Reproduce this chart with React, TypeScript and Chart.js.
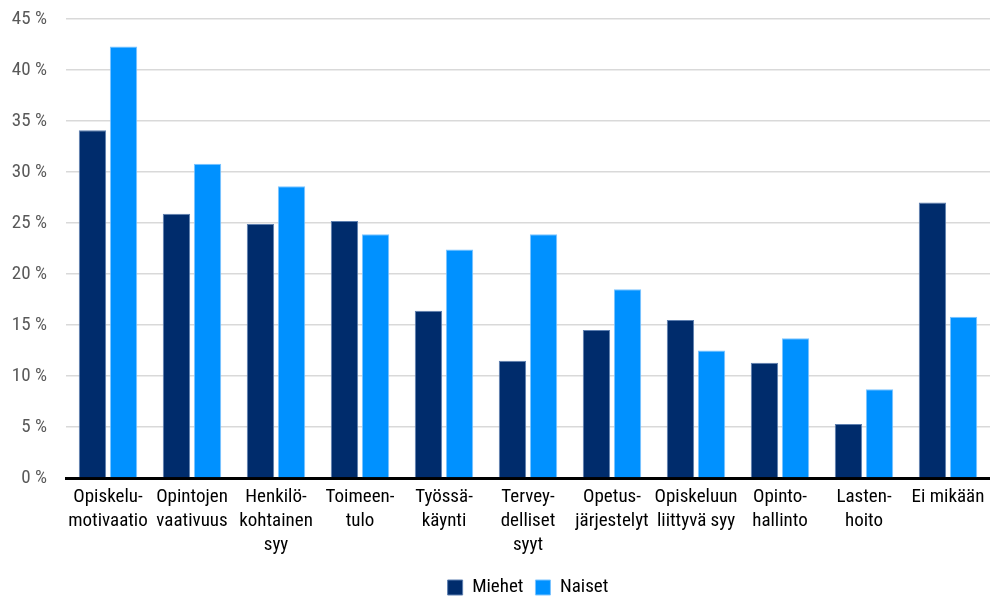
import React, { useEffect, useRef } from "react";
import { Chart, registerables } from "chart.js";

Chart.register(...registerables);

const categories: (string | string[])[] = [
  ["Opiskelu-", "motivaatio"],
  ["Opintojen", "vaativuus"],
  ["Henkilö-", "kohtainen", "syy"],
  ["Toimeen-", "tulo"],
  ["Työssä-", "käynti"],
  ["Tervey-", "delliset", "syyt"],
  ["Opetus-", "järjestelyt"],
  ["Opiskeluun", "liittyvä syy"],
  ["Opinto-", "hallinto"],
  ["Lasten-", "hoito"],
  "Ei mikään",
];
const miehet = [34.1, 25.9, 24.9, 25.2, 16.4, 11.5, 14.5, 15.5, 11.3, 5.3, 27.0];
const naiset = [42.3, 30.8, 28.6, 23.9, 22.4, 23.9, 18.5, 12.5, 13.7, 8.7, 15.8];
const seriesNames = ["Miehet", "Naiset"];
const seriesColors = ["#002C6C", "#0091FF"];

const FONT = "'Roboto Condensed', 'Open Sans', sans-serif";

export default function App() {
  const ref = useRef<HTMLCanvasElement | null>(null);
  useEffect(() => {
    document.body.style.margin = "0";
    if (!ref.current) return;
    const chart = new Chart(ref.current, {
      type: "bar",
      data: {
        labels: categories,
        datasets: [
          { label: seriesNames[0], data: miehet, backgroundColor: seriesColors[0], borderColor: "#5d7fb0", borderWidth: 1 },
          { label: seriesNames[1], data: naiset, backgroundColor: seriesColors[1], borderColor: "#7cc4ff", borderWidth: 1 },
        ],
      },
      options: {
        animation: false,
        responsive: false,
        maintainAspectRatio: false,
        datasets: { bar: { categoryPercentage: 0.74, barPercentage: 0.88 } },
        layout: { padding: { top: 19, right: -5, left: 0, bottom: -9 } },
        plugins: {
          tooltip: { enabled: false },
          legend: {
            position: "bottom",
            fullSize: false,
            labels: {
              font: { family: FONT, size: 19 },
              color: "#000",
              boxWidth: 15,
              boxHeight: 15,
              padding: 12,
            },
          },
        },
        scales: {
          x: {
            grid: { display: false, drawTicks: false },
            border: { display: true, color: "#000", width: 3 },
            ticks: {
              font: { family: FONT, size: 19, lineHeight: 1.26 },
              color: "#000",
              maxRotation: 0,
              autoSkip: false,
              padding: 7,
            },
            afterFit: (s: any) => { s.height = 88; s.paddingLeft = 0; s.paddingRight = 0; },
          },
          y: {
            min: 0,
            max: 45,
            grid: { color: "#d9d9d9", lineWidth: 1.5, drawTicks: true, tickLength: 19, tickColor: "rgba(0,0,0,0)" },
            border: { display: false },
            ticks: {
              stepSize: 5,
              font: { family: FONT, size: 19 },
              color: "#595959",
              padding: 0,
              callback: (v: any) => `${v} %`,
            },
            afterFit: (s: any) => { s.width = 66; },
          },
        },
      },
    });
    return () => chart.destroy();
  }, []);
  return (
    <div style={{ width: 990, height: 598 }}>
      <canvas ref={ref} width={990} height={598} style={{ width: 990, height: 598 }} />
    </div>
  );
}
